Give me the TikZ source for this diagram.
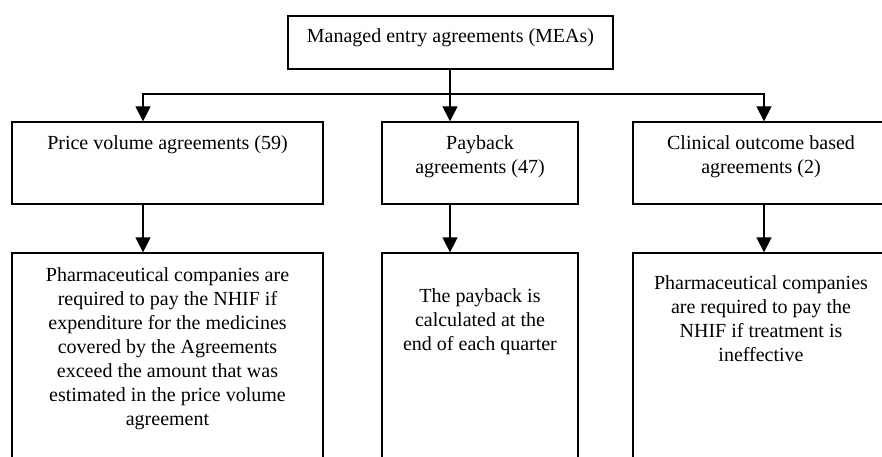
\documentclass[tikz,border=0pt]{standalone}
\usepackage{fontspec}
\setmainfont{Liberation Serif}
\usetikzlibrary{arrows.meta,positioning}

\begin{document}
\begin{tikzpicture}[x=1pt,y=1pt,
    box/.style={draw,line width=1.3pt,inner sep=0pt},
    txt/.style={inner sep=0pt,align=center,font=\fontsize{20}{24}\selectfont},
    arr/.style={line width=1.3pt,-{Triangle[width=15pt,length=15pt]}}]
\useasboundingbox (0,0) rectangle (882,456);
% top
\node[box,minimum width=325pt,minimum height=53pt] (mea) at (450.5,413.5) {};
\node[txt,below=13pt of mea.north] (mea-t) {Managed entry agreements (MEAs)};
% types of agreement
\node[box,minimum width=311pt,minimum height=82pt] (pva) at (167.5,293) {};
\node[box,minimum width=196pt,minimum height=82pt] (pba) at (480,293) {};
\node[box,minimum width=256pt,minimum height=82pt] (coba) at (761,293) {};
\node[txt,below=14pt of pva.north] (pva-t) {Price volume agreements (59)};
\node[txt,below=14pt of pba.north] (pba-t) {Payback\\agreements (47)};
\node[txt,below=14pt of coba.north] (coba-t) {Clinical outcome based\\agreements (2)};
% descriptions
\node[box,minimum width=311pt,minimum height=223pt] (pva-desc) at (167.5,91.5) {};
\node[box,minimum width=196pt,minimum height=223pt] (pba-desc) at (480,91.5) {};
\node[box,minimum width=256pt,minimum height=223pt] (coba-desc) at (761,91.5) {};
\node[txt,below=15pt of pva-desc.north] (pva-dt) {Pharmaceutical companies are\\required to pay the NHIF if\\expenditure for the medicines\\covered by the Agreements\\exceed the amount that was\\estimated in the price volume\\agreement};
\node[txt,below=36pt of pba-desc.north] (pba-dt) {The payback is\\calculated at the\\end of each quarter};
\node[txt,below=23pt of coba-desc.north] (coba-dt) {Pharmaceutical companies\\are required to pay the\\NHIF if treatment is\\ineffective};
% connectors
\coordinate (bus) at (450,362);
\draw[arr] (bus |- mea.south) -- (bus |- pba.north);
\draw[arr] (bus) -| ([xshift=-24.5pt]pva.north);
\draw[arr] (bus) -| ([xshift=3pt]coba.north);
\foreach \n/\dx in {pva/-24.5,pba/-30,coba/3}
  \draw[arr] ([xshift=\dx pt]\n.south) -- ([xshift=\dx pt]\n-desc.north);
\end{tikzpicture}
\end{document}
